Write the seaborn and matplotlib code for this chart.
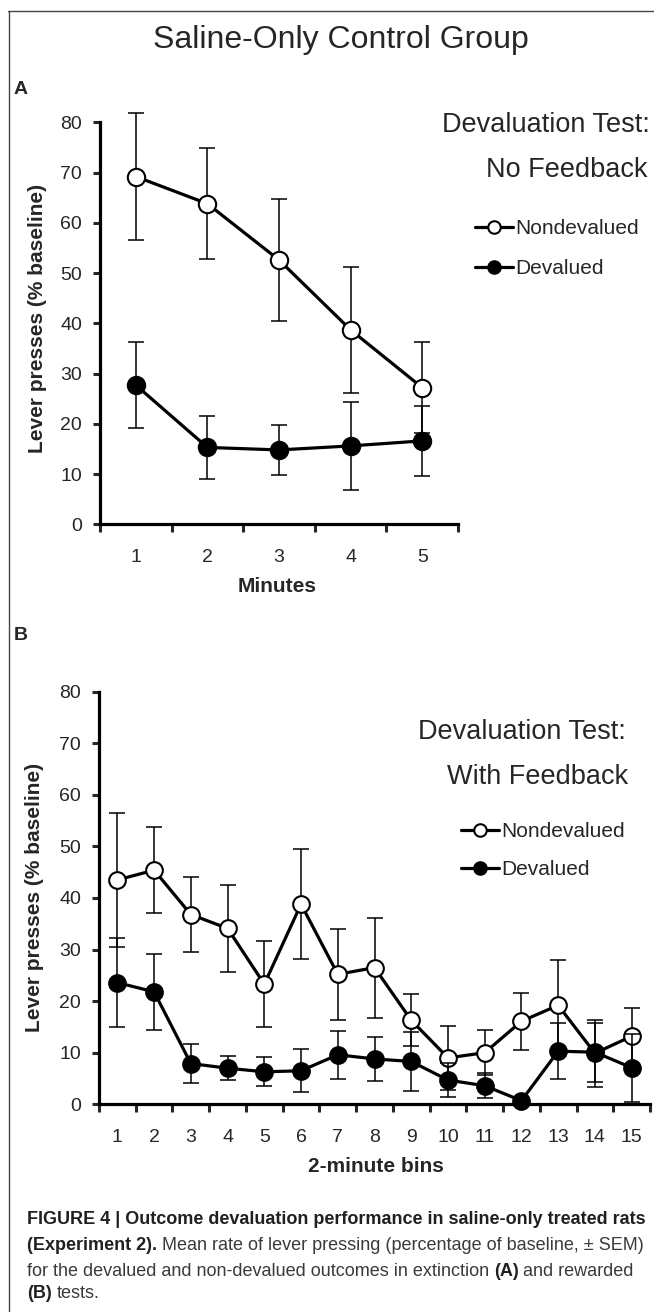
import numpy as np
import pandas as pd
import matplotlib
matplotlib.use("Agg")
import matplotlib.pyplot as plt
from matplotlib.lines import Line2D
import seaborn as sns

# ---------------- data ----------------
minutes = [1, 2, 3, 4, 5]
a_nondev = [69.2, 63.8, 52.6, 38.7, 27.2]
a_nondev_sem = [12.7, 11.0, 12.2, 12.6, 9.0]
a_dev = [27.7, 15.3, 14.8, 15.6, 16.6]
a_dev_sem = [8.5, 6.3, 5.0, 8.7, 7.0]

bins = list(range(1, 16))
b_nondev = [43.5, 45.4, 36.8, 34.1, 23.3, 38.8, 25.2, 26.5, 16.3, 9.0, 10.0, 16.1, 19.2, 9.9, 13.2]
b_nondev_sem = [13.0, 8.3, 7.3, 8.5, 8.4, 10.7, 8.8, 9.7, 5.0, 6.2, 4.4, 5.5, 8.8, 6.5, 5.5]
b_dev = [23.6, 21.8, 7.9, 7.0, 6.3, 6.5, 9.6, 8.8, 8.3, 4.7, 3.6, 0.7, 10.3, 10.1, 7.1]
b_dev_sem = [8.6, 7.4, 3.7, 2.3, 2.8, 4.2, 4.6, 4.3, 5.7, 3.3, 2.4, 0.0, 5.4, 5.7, 6.6]

y_ticks = [0, 10, 20, 30, 40, 50, 60, 70, 80]
series_names = ["Nondevalued", "Devalued"]

# ---------------- style ----------------
W, H = 654, 1312
sns.set_style("ticks")
plt.rcParams["font.family"] = ["Liberation Sans", "DejaVu Sans"]

fig = plt.figure(figsize=(W / 100, H / 100), dpi=100)


def fx(x):
    return x / W


def fy(y):
    return 1 - y / H


axA = fig.add_axes([fx(100), fy(524.3), 358 / W, 402 / H])
axB = fig.add_axes([fx(99), fy(1104.3), 551 / W, 412.6 / H])


def draw_panel(ax, x, nd, nd_sem, dv, dv_sem, ms, cap):
    z = 2
    for y, e, face in [(nd, nd_sem, "white"), (dv, dv_sem, "black")]:
        ax.errorbar(x, y, yerr=e, fmt="none", ecolor="black", elinewidth=1.1,
                    capsize=cap, capthick=1.1, zorder=z, clip_on=False)
        df = pd.DataFrame({"x": x, "y": y})
        sns.lineplot(data=df, x="x", y="y", ax=ax, color="black", lw=2.3,
                     marker="o", markersize=ms, markerfacecolor=face,
                     markeredgecolor="black", markeredgewidth=1.5,
                     errorbar=None, legend=False, zorder=z + 1, clip_on=False)
        z += 2
    n = len(x)
    ax.set_xlim(0.5, n + 0.5)
    ax.set_ylim(0, 80)
    ax.set_xticks(x)
    ax.set_xticklabels([str(v) for v in x])
    ax.set_xticks(np.arange(0.5, n + 1, 1.0), minor=True)
    ax.set_yticks(y_ticks)
    ax.set_yticklabels([str(v) for v in y_ticks])
    ax.tick_params(axis="x", which="major", length=0, pad=18, labelsize=14)
    ax.tick_params(axis="x", which="minor", length=6, width=2.2, direction="out")
    ax.tick_params(axis="y", which="major", length=5, width=2.2, direction="out",
                   labelsize=14, pad=8)
    ax.set_xlabel("")
    ax.set_ylabel("")
    sns.despine(ax=ax)
    for s in ["left", "bottom"]:
        ax.spines[s].set_linewidth(2.3)
        ax.spines[s].set_color("black")


draw_panel(axA, minutes, a_nondev, a_nondev_sem, a_dev, a_dev_sem, ms=12.5, cap=6)
draw_panel(axB, bins, b_nondev, b_nondev_sem, b_dev, b_dev_sem, ms=12, cap=5.5)

# ---------------- text ----------------
fig.text(fx(341), fy(40), "Saline-Only Control Group", ha="center", va="center", fontsize=23)
fig.text(fx(14), fy(90), "A", ha="left", va="center", fontsize=14, weight="bold")
fig.text(fx(14), fy(636), "B", ha="left", va="center", fontsize=14, weight="bold")

fig.text(fx(38), fy(318), "Lever presses (% baseline)", rotation=90, ha="center",
         va="center", fontsize=15, weight="bold")
fig.text(fx(35), fy(897), "Lever presses (% baseline)", rotation=90, ha="center",
         va="center", fontsize=15, weight="bold")
fig.text(fx(277), fy(587), "Minutes", ha="center", va="center", fontsize=15, weight="bold")
fig.text(fx(376), fy(1167), "2-minute bins", ha="center", va="center", fontsize=15, weight="bold")

fig.text(fx(650), fy(125), "Devaluation Test:", ha="right", va="center", fontsize=19.5)
fig.text(fx(648), fy(170), "No Feedback", ha="right", va="center", fontsize=19.5)
fig.text(fx(626), fy(732), "Devaluation Test:", ha="right", va="center", fontsize=19.5)
fig.text(fx(628), fy(777), "With Feedback", ha="right", va="center", fontsize=19.5)


def make_handles():
    return [Line2D([], [], color="black", lw=2.3, marker="o", ms=9, mfc=f,
                   mec="black", mew=1.5) for f in ["white", "black"]]


for (lx, ly, sp) in [(475, 219, 1.0), (461, 822, 0.92)]:
    fig.legend(make_handles(), series_names, loc="upper left",
               bbox_to_anchor=(fx(lx), fy(ly)), bbox_transform=fig.transFigure,
               frameon=False, fontsize=15, handlelength=1.8, handletextpad=0.15,
               labelspacing=sp, borderpad=0, borderaxespad=0)

# page border
fig.add_artist(Line2D([fx(8), 1], [fy(11), fy(11)], color="#444444", lw=1.0))
fig.add_artist(Line2D([fx(9), fx(9)], [fy(11), 0], color="#444444", lw=1.0))

# caption with mixed weights
cap_fs = 13
cap_family = ["Liberation Sans Narrow", "Liberation Sans", "DejaVu Sans"]
renderer = fig.canvas.get_renderer()


def rich_line(x, y, segs):
    for txt, bold in segs:
        if txt == " ":
            x += cap_fs * 100 / 72 * 0.25
            continue
        t = fig.text(fx(x), fy(y), txt, ha="left", va="center", fontsize=cap_fs,
                     family=cap_family, weight="bold" if bold else "normal",
                     color="#231f20" if bold else "#3a3a3a")
        bb = t.get_window_extent(renderer=renderer)
        x += bb.width


rich_line(27, 1220, [("FIGURE 4 | Outcome devaluation performance in saline-only treated rats", True)])
rich_line(27, 1246, [("(Experiment 2).", True), (" ", False),
                     ("Mean rate of lever pressing (percentage of baseline, \u00b1 SEM)", False)])
rich_line(27, 1271, [("for the devalued and non-devalued outcomes in extinction", False), (" ", False),
                     ("(A)", True), (" ", False), ("and rewarded", False)])
rich_line(27, 1294, [("(B)", True), (" ", False), ("tests.", False)])

fig.savefig("out.png", dpi=100)
